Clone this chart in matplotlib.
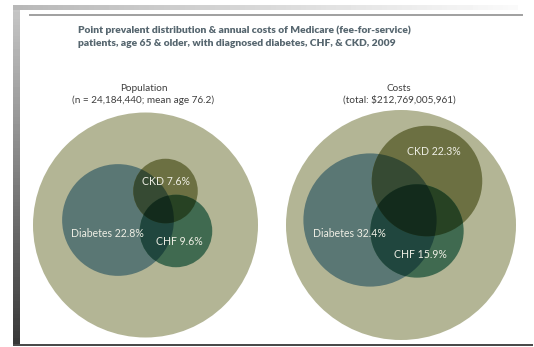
import numpy as np
import matplotlib
matplotlib.use("Agg")
import matplotlib.pyplot as plt
from matplotlib.patches import Circle, Polygon, Rectangle

# ---- data ----
title_lines = ["Point prevalent distribution & annual costs of Medicare (fee-for-service)",
               "patients, age 65 & older, with diagnosed diabetes, CHF, & CKD, 2009"]
panel_titles = ["Population", "Costs"]
panel_subtitles = ["(n = 24,184,440; mean age 76.2)", "(total: $212,769,005,961)"]
conditions = ["Diabetes", "CKD", "CHF"]
population_pct = [22.8, 7.6, 9.6]
costs_pct = [32.4, 22.3, 15.9]

# ---- layout (pixel coordinates) ----
W, H = 534, 347
fig = plt.figure(figsize=(W / 100, H / 100), dpi=100)
ax = fig.add_axes([0, 0, 1, 1])
ax.set_xlim(0, W)
ax.set_ylim(H, 0)
ax.axis("off")

# frame of the slide screenshot
ax.imshow(np.linspace(0.78, 0.22, 100).reshape(-1, 1), extent=[13, 20, 345, 5],
          cmap="gray", vmin=0, vmax=1, aspect="auto", origin="upper", zorder=0)
ax.imshow(np.linspace(0.72, 0.98, 100).reshape(1, -1), extent=[13, 518, 10, 5],
          cmap="gray", vmin=0, vmax=1, aspect="auto", origin="upper", zorder=0)
ax.add_patch(Rectangle((13, 343.5), 520, 2.5, color="#4a4a4a", lw=0, zorder=1))
ax.plot([30, 522], [15, 15], color="#a0a0a0", lw=1.4, zorder=1)
ax.set_xlim(0, W)
ax.set_ylim(H, 0)

# title
for i, line in enumerate(title_lines):
    ax.text(78, 30 + 13 * i, line, fontsize=7.4, fontweight="heavy", color="#56666f",
            family="Lato", ha="left", va="center")

BIG = np.array([179, 181, 149]) / 255.0
single_rgb = {"Diabetes": np.array([90, 119, 116]) / 255.0,
              "CKD": np.array([108, 112, 66]) / 255.0,
              "CHF": np.array([64, 106, 80]) / 255.0}
factor = {k: v / BIG for k, v in single_rgb.items()}

panels = [
    dict(center=(145.5, 225), big_r=112.5, scale_r=117,
         centers={"Diabetes": (118, 220), "CKD": (165.5, 191), "CHF": (176, 231)},
         vals=population_pct,
         label_pos={"Diabetes": (107, 233), "CKD": (166, 181), "CHF": (179, 241)}),
    dict(center=(401, 225), big_r=115, scale_r=117,
         centers={"Diabetes": (370, 220), "CKD": (427, 181), "CHF": (417, 231)},
         vals=costs_pct,
         label_pos={"Diabetes": (349, 233), "CKD": (434, 151), "CHF": (420, 254)}),
]


def lens(c1, r1, c2, r2, n=720):
    t = np.linspace(0, 2 * np.pi, n, endpoint=False)
    p1 = np.c_[c1[0] + r1 * np.cos(t), c1[1] + r1 * np.sin(t)]
    p2 = np.c_[c2[0] + r2 * np.cos(t), c2[1] + r2 * np.sin(t)]
    a = p1[np.hypot(p1[:, 0] - c2[0], p1[:, 1] - c2[1]) <= r2]
    b = p2[np.hypot(p2[:, 0] - c1[0], p2[:, 1] - c1[1]) <= r1]
    pts = np.vstack([a, b])
    cen = pts.mean(axis=0)
    ang = np.arctan2(pts[:, 1] - cen[1], pts[:, 0] - cen[0])
    return pts[np.argsort(ang)]


for pi, p in enumerate(panels):
    ax.add_patch(Circle(p["center"], p["big_r"], color=BIG, lw=0, zorder=2))
    radii = {k: p["scale_r"] * np.sqrt(v / 100.0) for k, v in zip(conditions, p["vals"])}
    cen = p["centers"]
    # singles
    for k in conditions:
        ax.add_patch(Circle(cen[k], radii[k], color=single_rgb[k], lw=0, zorder=3))
    # pairs (multiply blend)
    pairs = [("Diabetes", "CKD"), ("Diabetes", "CHF"), ("CKD", "CHF")]
    for a, b in pairs:
        col = np.clip(BIG * factor[a] * factor[b], 0, 1)
        patch = Circle(cen[b], radii[b], color=col, lw=0, zorder=4)
        ax.add_patch(patch)
        clip = Circle(cen[a], radii[a], transform=ax.transData)
        patch.set_clip_path(clip)
    # triple
    col3 = np.clip(BIG * factor["Diabetes"] * factor["CKD"] * factor["CHF"], 0, 1)
    poly = Polygon(lens(cen["CKD"], radii["CKD"], cen["CHF"], radii["CHF"]),
                   closed=True, color=col3, lw=0, zorder=5)
    ax.add_patch(poly)
    poly.set_clip_path(Circle(cen["Diabetes"], radii["Diabetes"], transform=ax.transData))
    # labels
    for k, v in zip(conditions, p["vals"]):
        x, y = p["label_pos"][k]
        ax.text(x, y, f"{k} {v}%", fontsize=7.6, color="#eeeee4", family="Lato",
                ha="center", va="center", zorder=6)
    ax.text(p["center"][0] - 2, 88, panel_titles[pi], fontsize=7.2, color="#3e3e3e",
            family="Lato", ha="center", va="center")
    ax.text(p["center"][0] - 2, 100, panel_subtitles[pi], fontsize=7.2, color="#3e3e3e",
            family="Lato", ha="center", va="center")

fig.savefig("out.png", dpi=100)
